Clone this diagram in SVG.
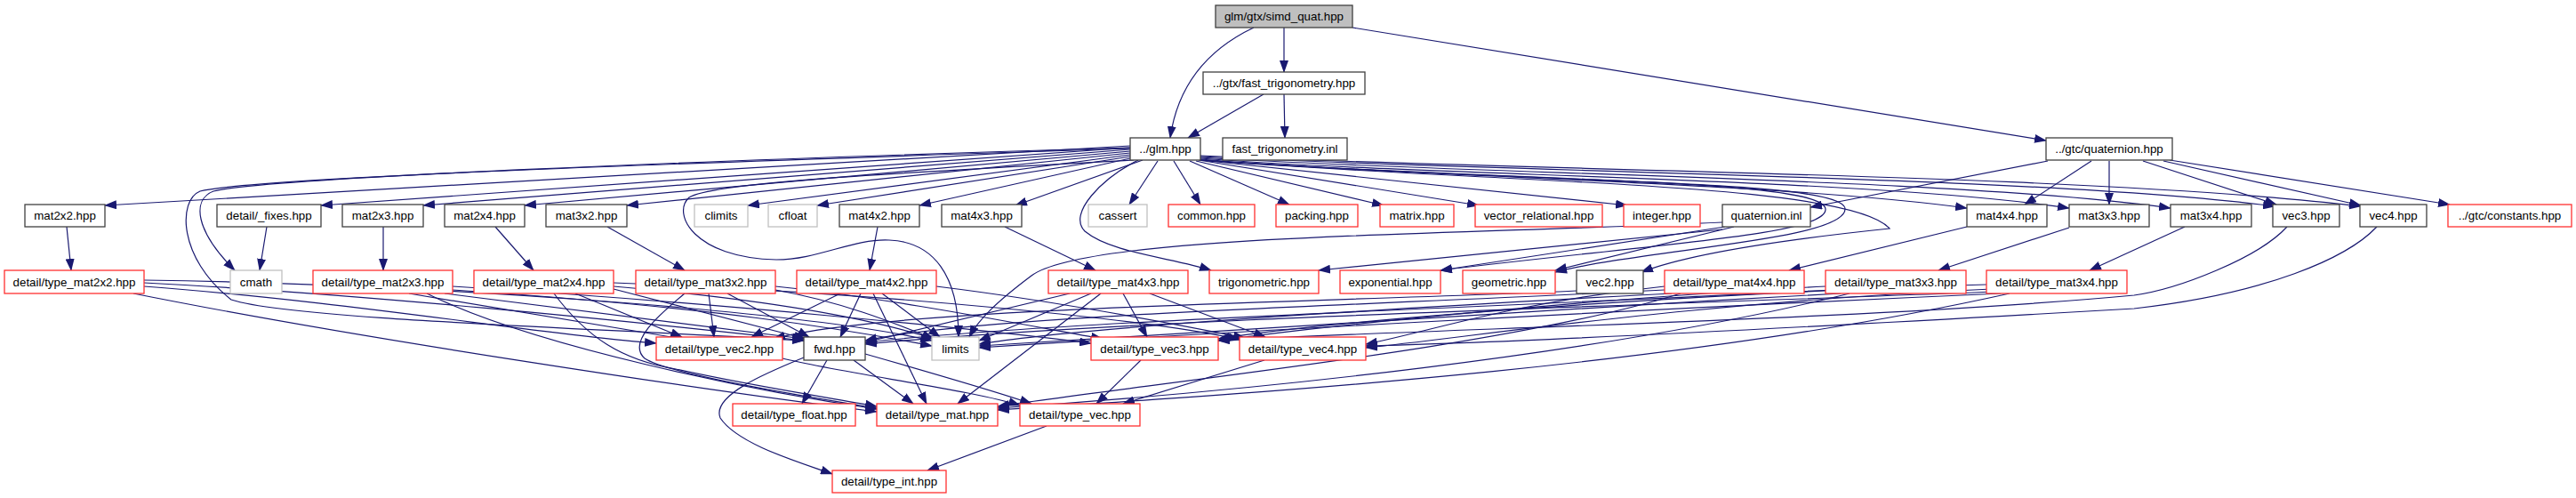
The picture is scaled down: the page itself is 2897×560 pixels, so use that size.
<svg xmlns="http://www.w3.org/2000/svg" width="2897" height="560" viewBox="0 0 2897 560">
<style>
.n rect{fill:#fff;stroke:#404040;stroke-width:1.3}
.n.r rect{stroke:#ff3030}
.n.g rect{stroke:#c0c0c0}
.n.root rect{fill:#bfbfbf}
.n text{font-family:"Liberation Sans",Arial,Helvetica,sans-serif;font-size:13.33px;fill:#000;text-anchor:middle}
#edges path{fill:none;stroke:#191970;stroke-width:1.2}
</style>
<defs>
<marker id="a" markerUnits="userSpaceOnUse" markerWidth="14" markerHeight="10" refX="13" refY="5" orient="auto">
<path d="M0,0 L14,5 L0,10 z" fill="#191970"/>
</marker>
</defs>
<rect width="2897" height="560" fill="#fff"/>
<g id="edges" marker-end="url(#a)">
<path d="M1410,31 C1370,50 1326,85 1316,155"/>
<path d="M1444,31 L1444,81"/>
<path d="M1521,31 L2301,158"/>
<path d="M1421,106 L1336,155"/>
<path d="M1444,106 L1445,155"/>
<path d="M2303,181 L2036,233"/>
<path d="M2352,181 L2277,230"/>
<path d="M2372,181 L2372,230"/>
<path d="M2410,181 L2560,230"/>
<path d="M2433,181 L2655,231"/>
<path d="M2440,180 L2755,230"/>
<path d="M1271,164 L118,231"/>
<path d="M1271,166 L361,231"/>
<path d="M1271,168 L476,231"/>
<path d="M1271,170 L590,231"/>
<path d="M1271,172 L705,231"/>
<path d="M1271,174 L841,231"/>
<path d="M1271,176 L919,231"/>
<path d="M1271,178 L1034,231"/>
<path d="M1285,180 L1142,231"/>
<path d="M1271,166 C800,180 300,200 240,215 C215,225 220,260 264,304"/>
<path d="M1271,167 C800,182 280,200 225,215 C200,225 200,290 260,337 C330,360 700,370 904,383"/>
<path d="M1275,180 C1000,195 800,205 775,222 C755,240 780,290 873,292 C920,292 960,268 1000,270 C1050,272 1078,310 1078,379"/>
<path d="M1302,181 L1270,230"/>
<path d="M1320,181 L1350,230"/>
<path d="M1338,181 L1450,230"/>
<path d="M1345,181 L1556,231"/>
<path d="M1348,180 L1663,231"/>
<path d="M1350,180 L1830,231"/>
<path d="M1350,179 C1600,200 2000,205 2212,234"/>
<path d="M1350,178 C1600,198 2100,200 2327,234"/>
<path d="M1350,177 C1650,196 2200,200 2441,234"/>
<path d="M1350,176 C1700,194 2300,198 2558,232"/>
<path d="M1350,175 C1700,192 2350,195 2655,232"/>
<path d="M1280,180 C1240,200 1200,240 1220,260 C1250,285 1320,290 1362,304"/>
<path d="M1350,180 C1700,205 2050,200 2053,235 C2055,265 1850,275 1620,304"/>
<path d="M1350,180 C1700,206 2075,200 2075,235 C2075,270 1850,280 1749,306"/>
<path d="M1350,180 C1700,207 2080,205 2125,257 C2000,270 1900,285 1846,306"/>
<path d="M75,255 L80,304"/>
<path d="M300,255 L292,304"/>
<path d="M431,255 L431,304"/>
<path d="M557,255 L600,304"/>
<path d="M683,255 L770,304"/>
<path d="M987,255 L978,304"/>
<path d="M1130,255 L1232,304"/>
<path d="M2212,255 L2012,304"/>
<path d="M2327,256 L2180,304"/>
<path d="M2457,255 L2350,304"/>
<path d="M1937,258 L1483,304"/>
<path d="M1940,255 L1620,304"/>
<path d="M1950,255 L1749,304"/>
<path d="M1937,250 C1600,265 1220,265 1160,310 C1120,340 1100,360 1090,379"/>
<path d="M1773,327 C1500,340 1000,345 870,381"/>
<path d="M162,322 C400,340 600,375 738,386"/>
<path d="M162,318 C400,330 700,360 904,383"/>
<path d="M162,315 C500,320 900,350 1048,383"/>
<path d="M150,330 C400,380 800,440 986,463"/>
<path d="M460,330 L767,381"/>
<path d="M509,322 C800,340 1100,370 1227,386"/>
<path d="M500,330 L904,381"/>
<path d="M509,326 C800,345 950,370 1048,389"/>
<path d="M480,330 C600,390 850,440 986,460"/>
<path d="M647,330 L767,379"/>
<path d="M690,318 C1000,330 1300,360 1394,382"/>
<path d="M690,325 L906,381"/>
<path d="M690,322 C900,340 1000,365 1050,381"/>
<path d="M623,330 C660,380 700,405 760,415 C850,435 950,450 986,457"/>
<path d="M797,330 L803,379"/>
<path d="M872,322 C1000,335 1150,365 1240,381"/>
<path d="M818,330 L910,379"/>
<path d="M872,326 C950,340 1010,365 1050,381"/>
<path d="M770,330 C740,355 705,385 725,403 C750,420 900,445 986,459"/>
<path d="M945,330 L845,379"/>
<path d="M1053,322 C1200,340 1350,370 1400,380"/>
<path d="M968,330 L945,379"/>
<path d="M992,330 L1057,379"/>
<path d="M982,330 L1042,454"/>
<path d="M1293,330 L1423,379"/>
<path d="M1263,330 L1290,379"/>
<path d="M1203,330 L973,385"/>
<path d="M1227,330 L1101,383"/>
<path d="M1238,330 L1077,454"/>
<path d="M1872,322 C1700,340 1600,375 1536,387"/>
<path d="M1872,326 C1500,345 1100,355 973,383"/>
<path d="M1880,330 C1500,350 1200,370 1101,387"/>
<path d="M1890,330 C1700,390 1300,430 1122,457"/>
<path d="M2053,322 C1800,335 1500,365 1370,383"/>
<path d="M2060,326 C1700,345 1200,360 973,385"/>
<path d="M2070,330 C1700,350 1300,375 1101,389"/>
<path d="M2080,330 C1800,400 1400,440 1122,459"/>
<path d="M2234,320 C1900,330 1500,360 1370,381"/>
<path d="M2240,325 C1900,340 1650,380 1536,391"/>
<path d="M2245,328 C1800,345 1250,360 973,387"/>
<path d="M2250,330 C1800,350 1350,375 1101,391"/>
<path d="M2260,330 C1900,410 1450,440 1122,461"/>
<path d="M2572,255 C2540,290 2450,325 2400,332 C2100,360 1600,370 1370,383"/>
<path d="M2673,255 C2640,290 2550,330 2400,347 C2000,370 1700,385 1536,389"/>
<path d="M930,405 L902,454"/>
<path d="M904,402 C860,420 800,445 810,470 C830,500 900,520 936,533"/>
<path d="M960,405 L1027,454"/>
<path d="M973,398 C1050,420 1120,440 1160,454"/>
<path d="M880,403 C950,420 1100,440 1147,456"/>
<path d="M1283,405 L1233,454"/>
<path d="M1422,405 L1263,454"/>
<path d="M1177,479 L1043,529"/>
</g>
<g id="n_simd_quat" class="n root"><rect x="1367" y="6" width="154" height="25"/><text x="1444" y="23">glm/gtx/simd_quat.hpp</text></g>
<g id="n_fast_trig_hpp" class="n"><rect x="1353" y="81" width="182" height="25"/><text x="1444" y="98">../gtx/fast_trigonometry.hpp</text></g>
<g id="n_glm" class="n"><rect x="1271" y="155" width="79" height="25"/><text x="1310.5" y="172">../glm.hpp</text></g>
<g id="n_fast_trig_inl" class="n"><rect x="1375" y="155" width="140" height="25"/><text x="1445" y="172">fast_trigonometry.inl</text></g>
<g id="n_quaternion_hpp" class="n"><rect x="2301" y="155" width="142" height="25"/><text x="2372" y="172">../gtc/quaternion.hpp</text></g>
<g id="n_mat2x2" class="n"><rect x="28" y="230" width="90" height="25"/><text x="73" y="247">mat2x2.hpp</text></g>
<g id="n_fixes" class="n"><rect x="244" y="230" width="117" height="25"/><text x="302.5" y="247">detail/_fixes.hpp</text></g>
<g id="n_mat2x3" class="n"><rect x="385" y="230" width="91" height="25"/><text x="430.5" y="247">mat2x3.hpp</text></g>
<g id="n_mat2x4" class="n"><rect x="500" y="230" width="90" height="25"/><text x="545" y="247">mat2x4.hpp</text></g>
<g id="n_mat3x2" class="n"><rect x="614" y="230" width="91" height="25"/><text x="659.5" y="247">mat3x2.hpp</text></g>
<g id="n_climits" class="n g"><rect x="781" y="230" width="60" height="25"/><text x="811" y="247">climits</text></g>
<g id="n_cfloat" class="n g"><rect x="864" y="230" width="55" height="25"/><text x="891.5" y="247">cfloat</text></g>
<g id="n_mat4x2" class="n"><rect x="944" y="230" width="90" height="25"/><text x="989" y="247">mat4x2.hpp</text></g>
<g id="n_mat4x3" class="n"><rect x="1059" y="230" width="90" height="25"/><text x="1104" y="247">mat4x3.hpp</text></g>
<g id="n_cassert" class="n g"><rect x="1224" y="230" width="66" height="25"/><text x="1257" y="247">cassert</text></g>
<g id="n_common" class="n r"><rect x="1314" y="230" width="97" height="25"/><text x="1362.5" y="247">common.hpp</text></g>
<g id="n_packing" class="n r"><rect x="1435" y="230" width="92" height="25"/><text x="1481" y="247">packing.hpp</text></g>
<g id="n_matrix" class="n r"><rect x="1552" y="230" width="83" height="25"/><text x="1593.5" y="247">matrix.hpp</text></g>
<g id="n_vector_relational" class="n r"><rect x="1659" y="230" width="143" height="25"/><text x="1730.5" y="247">vector_relational.hpp</text></g>
<g id="n_integer" class="n r"><rect x="1826" y="230" width="86" height="25"/><text x="1869" y="247">integer.hpp</text></g>
<g id="n_quaternion_inl" class="n"><rect x="1937" y="230" width="99" height="25"/><text x="1986.5" y="247">quaternion.inl</text></g>
<g id="n_mat4x4" class="n"><rect x="2212" y="230" width="90" height="25"/><text x="2257" y="247">mat4x4.hpp</text></g>
<g id="n_mat3x3" class="n"><rect x="2327" y="230" width="90" height="25"/><text x="2372" y="247">mat3x3.hpp</text></g>
<g id="n_mat3x4" class="n"><rect x="2441" y="230" width="91" height="25"/><text x="2486.5" y="247">mat3x4.hpp</text></g>
<g id="n_vec3" class="n"><rect x="2556" y="230" width="75" height="25"/><text x="2593.5" y="247">vec3.hpp</text></g>
<g id="n_vec4" class="n"><rect x="2654" y="230" width="75" height="25"/><text x="2691.5" y="247">vec4.hpp</text></g>
<g id="n_constants" class="n r"><rect x="2753" y="230" width="139" height="25"/><text x="2822.5" y="247">../gtc/constants.hpp</text></g>
<g id="n_type_mat2x2" class="n r"><rect x="5" y="304" width="157" height="26"/><text x="83.5" y="322">detail/type_mat2x2.hpp</text></g>
<g id="n_cmath" class="n g"><rect x="259" y="304" width="58" height="26"/><text x="288" y="322">cmath</text></g>
<g id="n_type_mat2x3" class="n r"><rect x="352" y="304" width="157" height="26"/><text x="430.5" y="322">detail/type_mat2x3.hpp</text></g>
<g id="n_type_mat2x4" class="n r"><rect x="533" y="304" width="157" height="26"/><text x="611.5" y="322">detail/type_mat2x4.hpp</text></g>
<g id="n_type_mat3x2" class="n r"><rect x="715" y="304" width="157" height="26"/><text x="793.5" y="322">detail/type_mat3x2.hpp</text></g>
<g id="n_type_mat4x2" class="n r"><rect x="896" y="304" width="157" height="26"/><text x="974.5" y="322">detail/type_mat4x2.hpp</text></g>
<g id="n_type_mat4x3" class="n r"><rect x="1179" y="304" width="157" height="26"/><text x="1257.5" y="322">detail/type_mat4x3.hpp</text></g>
<g id="n_trigonometric" class="n r"><rect x="1360" y="304" width="123" height="26"/><text x="1421.5" y="322">trigonometric.hpp</text></g>
<g id="n_exponential" class="n r"><rect x="1507" y="304" width="113" height="26"/><text x="1563.5" y="322">exponential.hpp</text></g>
<g id="n_geometric" class="n r"><rect x="1645" y="304" width="104" height="26"/><text x="1697" y="322">geometric.hpp</text></g>
<g id="n_vec2" class="n"><rect x="1773" y="304" width="75" height="26"/><text x="1810.5" y="322">vec2.hpp</text></g>
<g id="n_type_mat4x4" class="n r"><rect x="1872" y="304" width="157" height="26"/><text x="1950.5" y="322">detail/type_mat4x4.hpp</text></g>
<g id="n_type_mat3x3" class="n r"><rect x="2053" y="304" width="158" height="26"/><text x="2132" y="322">detail/type_mat3x3.hpp</text></g>
<g id="n_type_mat3x4" class="n r"><rect x="2234" y="304" width="158" height="26"/><text x="2313" y="322">detail/type_mat3x4.hpp</text></g>
<g id="n_type_vec2" class="n r"><rect x="738" y="379" width="142" height="26"/><text x="809" y="397">detail/type_vec2.hpp</text></g>
<g id="n_fwd" class="n"><rect x="904" y="379" width="69" height="26"/><text x="938.5" y="397">fwd.hpp</text></g>
<g id="n_limits" class="n g"><rect x="1048" y="379" width="53" height="26"/><text x="1074.5" y="397">limits</text></g>
<g id="n_type_vec3" class="n r"><rect x="1227" y="379" width="143" height="26"/><text x="1298.5" y="397">detail/type_vec3.hpp</text></g>
<g id="n_type_vec4" class="n r"><rect x="1394" y="379" width="142" height="26"/><text x="1465" y="397">detail/type_vec4.hpp</text></g>
<g id="n_type_float" class="n r"><rect x="824" y="454" width="138" height="25"/><text x="893" y="471">detail/type_float.hpp</text></g>
<g id="n_type_mat" class="n r"><rect x="986" y="454" width="136" height="25"/><text x="1054" y="471">detail/type_mat.hpp</text></g>
<g id="n_type_vec" class="n r"><rect x="1147" y="454" width="135" height="25"/><text x="1214.5" y="471">detail/type_vec.hpp</text></g>
<g id="n_type_int" class="n r"><rect x="936" y="529" width="128" height="25"/><text x="1000" y="546">detail/type_int.hpp</text></g>
</svg>
